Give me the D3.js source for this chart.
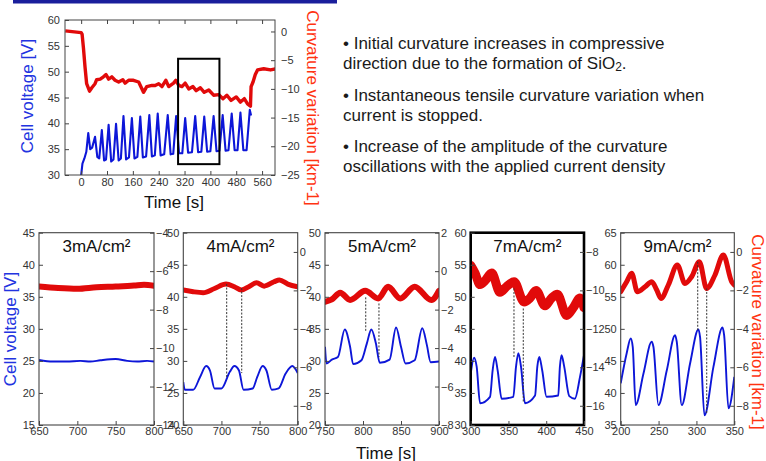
<!DOCTYPE html>
<html>
<head>
<meta charset="utf-8">
<script src="https://cdn.jsdelivr.net/npm/d3@7"></script>
<style>
  body { margin: 0; background: #fff; }
  svg { display: block; font-family: "Liberation Sans", Arial, sans-serif; }
</style>
</head>
<body>
<svg id="chart" width="766" height="461"></svg>
<script>
// ---- overview run (top left) ----
var topTimeTicks = [0, 80, 160, 240, 320, 400, 480, 560];
var topVoltTicks = [30, 35, 40, 45, 50, 55, 60];
var topCurvTicks = [-25, -20, -15, -10, -5, 0];

// [time s, cell voltage V]
var topVoltage = [[0,30.0],[4,32.2],[10,33.2],[16,34.5],[22,38.1],[28,35.0],[34,35.3],[43,37.4],[50,33.5],
  [56,33.2],[64,38.7],[71,32.8],[77,33.0],[85,39.7],[93,32.6],[100,33.0],[108,39.9],[116,32.8],[123,33.2],
  [131,41.4],[139,33.0],[148,33.4],[157,41.0],[165,33.2],[174,33.5],[183,41.3],[191,33.4],[201,33.6],
  [211,41.6],[219,33.6],[228,33.8],[237,41.9],[246,33.8],[257,34.0],[268,41.6],[277,34.0],[285,34.1],
  [294,41.4],[303,34.2],[313,34.2],[322,41.0],[331,34.3],[343,34.4],[353,41.4],[362,34.4],[372,34.5],
  [381,41.3],[390,34.5],[400,34.6],[410,41.4],[419,34.6],[428,34.7],[438,41.6],[447,34.7],[456,34.8],
  [466,41.9],[475,34.8],[484,34.8],[493,42.1],[502,34.8],[512,34.8],[522,42.6],[526,41.5]];

// [time s, curvature variation km-1]
var topCurvature = [[-49,0.1],[0,-0.2],[3,-0.5],[7,-2.8],[12,-6.2],[17,-9.1],[26,-10.4],[33,-9.8],[43,-9.1],
  [48,-8.4],[59,-8.3],[69,-7.9],[77,-7.5],[85,-8.3],[95,-7.9],[105,-8.5],[116,-8.8],[129,-8.4],[136,-9.0],
  [147,-8.5],[162,-8.5],[178,-8.8],[193,-10.6],[203,-9.6],[219,-9.4],[229,-9.4],[240,-9.1],[250,-9.6],
  [262,-8.5],[271,-9.6],[286,-9.0],[293,-8.5],[302,-9.4],[312,-9.6],[322,-9.0],[333,-10.0],[346,-9.6],
  [356,-10.3],[369,-9.8],[381,-10.6],[395,-10.2],[410,-11.1],[426,-11.0],[439,-11.7],[451,-11.1],
  [464,-12.0],[480,-11.4],[493,-12.3],[505,-11.7],[515,-12.6],[524,-13.0],[526,-9.6],[532,-8.8],
  [539,-7.5],[546,-6.7],[565,-6.5],[586,-6.7],[602,-6.5]];

// highlighted window: [t0, t1, V0, V1]
var zoomBox = [300, 428, 32.1, 52.5];

var bullets = [
  ["• Initial curvature increases in compressive", "direction due to the formation of SiO", "2", "."],
  ["• Instantaneous tensile curvature variation when", "current is stopped."],
  ["• Increase of the amplitude of the curvature", "oscillations with the applied current density"]
];

// ---- five current densities (bottom row) ----
var densities = ["3mA/cm²", "4mA/cm²", "5mA/cm²", "7mA/cm²", "9mA/cm²"];
var timeRanges = [[650, 800], [650, 800], [750, 900], [300, 450], [200, 350]];
var voltRanges = [[15, 45], [20, 50], [20, 50], [30, 60], [35, 65]];
var curvRanges = [[-14, -4], [-9, 1], [-8, 2], [-17, -7], [-9, 1]];
var timeTicks = [[650, 700, 750, 800], [650, 700, 750, 800], [750, 800, 850, 900],
                 [300, 350, 400, 450], [200, 250, 300, 350]];
var voltTicks = [[15, 20, 25, 30, 35, 40, 45], [20, 25, 30, 35, 40, 45, 50], [20, 25, 30, 35, 40, 45, 50],
                 [30, 35, 40, 45, 50, 55, 60], [35, 40, 45, 50, 55, 60, 65]];
var curvTicks = [[-14, -12, -10, -8, -6, -4], [-8, -6, -4, -2, 0], [-8, -6, -4, -2, 0, 2],
                 [-16, -14, -12, -10, -8], [-8, -6, -4, -2, 0]];

var volt3 = [[650,25.15],[668,24.9],[686,24.9],[704,25.0],[717,24.9],[730,25.1],[750,25.3],[765,25.0],
  [778,24.9],[791,25.0],[800,24.9]];
var curv3 = [[650,-6.80],[675,-6.88],[700,-6.92],[725,-6.84],[750,-6.80],[774,-6.75],[787,-6.71],[800,-6.76]];

var volt4 = [[650,26.7],[652,25.5],[663,25.5],[672,27.5],[680,29.2],[685,28.5],[691,25.7],[700,25.7],
  [711,28.3],[717,29.2],[723,28.5],[729,25.5],[741,25.7],[747,27.5],[754,29.2],[759,28.5],[766,25.5],
  [775,25.7],[784,28.0],[793,29.2],[800,28.1]];
var curv4 = [[650,-1.98],[663,-2.07],[676,-2.12],[691,-1.90],[706,-1.67],[717,-1.81],[726,-1.98],
  [737,-1.78],[746,-1.60],[756,-1.78],[769,-1.55],[776,-1.46],[787,-1.67],[800,-1.81]];

var volt5 = [[750,32.2],[752,29.6],[759,30.2],[767,30.6],[776,34.9],[783,32.2],[787,29.5],[798,30.1],
  [805,32.7],[811,34.9],[817,32.7],[822,29.7],[835,30.2],[843.5,35.2],[850,32.2],[856,29.6],[868,30.1],
  [878,35.1],[884,32.5],[889,29.8],[900,29.9]];
var curv5 = [[750,-1.59],[759,-1.47],[770,-1.12],[783,-1.50],[803,-1.02],[820,-1.42],[833,-0.81],
  [849,-1.42],[868,-0.81],[890,-1.50],[900,-1.02]];

var volt7 = [[300,38.0],[304.4,40.5],[307.9,39.1],[312.4,33.4],[325.6,34.4],[329,38.5],[332.2,40.6],
  [335.7,38.5],[341,34.1],[356.4,34.4],[360,39.1],[363.1,41.2],[366.6,39.1],[371.9,33.4],[385.2,34.6],
  [388.2,39.1],[390.8,40.6],[394.7,38.5],[400.4,34.4],[415.9,34.6],[418.1,39.1],[420.3,40.9],[423.8,39.1],
  [430.5,34.5],[437.9,34.1],[444.7,37.5],[450,40.9]];
var curv7 = [[300,-8.7],[305.7,-9.1],[312.4,-9.7],[319,-9.5],[327.8,-9.1],[338.8,-10.1],[347.6,-9.8],
  [357.4,-9.55],[370.6,-10.6],[378.5,-10.4],[386.5,-10.0],[398.4,-10.8],[407,-10.4],[414.7,-10.2],
  [427,-11.3],[435.8,-10.9],[444.7,-10.4],[450,-10.9]];

var volt9 = [[200,41.5],[207.9,46.2],[213.2,48.5],[215.9,47.2],[219.8,38.1],[230,43.0],[241,48.0],
  [243.2,47.2],[249.8,38.1],[260.8,43.5],[271.8,49.0],[274,48.0],[280.6,38.1],[291.6,44.6],[302.6,49.9],
  [304.8,48.7],[310.6,36.5],[322.5,44.1],[334.4,50.2],[336.6,49.0],[342.3,37.6],[350,42.5]];
var curv9 = [[200,-2.07],[207.9,-1.55],[214.5,-1.11],[222,-2.07],[232.2,-1.81],[241,-1.55],[247.6,-1.98],
  [253.2,-2.42],[262.9,-1.72],[274.8,-0.68],[284.9,-1.64],[293.7,-1.29],[303.8,-0.51],[313.5,-1.90],
  [324.5,-1.20],[335.5,-0.16],[346.5,-1.55],[350,-1.72]];

// dotted guides: [time, curvature at top end, voltage at bottom end]
var guides = [
  [],
  [[706.9, -1.67, 27.5], [726.6, -1.88, 28.1]],
  [[803.6, -1.36, 34.5], [821, -1.68, 30.6]],
  [[357.3, -9.9, 40.6], [369.6, -10.94, 33.6]],
  [[301.7, -0.51, 49.8], [313.6, -1.9, 36.8]]
];

var voltSeries = [volt3, volt4, volt5, volt7, volt9];
var curvSeries = [curv3, curv4, curv5, curv7, curv9];

// ---- drawing ----
var BLUE = "#0d16d8", RED = "#e10a0a";
var BLUE_TXT = "#2233e0", RED_TXT = "#ff3311";
var svg = d3.select("#chart");

function styleAxis(g, size) {
  g.select(".domain").remove();
  g.selectAll(".tick line").attr("stroke", "#444");
  g.selectAll(".tick text").attr("fill", "#333").style("font-size", size + "px")
    .style("font-family", '"Liberation Sans", Arial, sans-serif');
}

// top header bar
svg.append("rect").attr("x", 13).attr("y", 0).attr("width", 324).attr("height", 3.5).attr("fill", "#1a1f9c");

// top chart
(function () {
  var x = d3.scaleLinear().domain([-50, 600]).range([65, 275]);
  var yV = d3.scaleLinear().domain([30, 60]).range([175, 20]);
  var yC = d3.scaleLinear().domain([-25, 2]).range([175, 20]);
  var g = svg.append("g");

  g.append("clipPath").attr("id", "clipTop").append("rect")
    .attr("x", 65).attr("y", 20).attr("width", 210).attr("height", 155);

  var plot = g.append("g").attr("clip-path", "url(#clipTop)");
  plot.append("path").datum(topCurvature)
    .attr("d", d3.line().x(d => x(d[0])).y(d => yC(d[1])))
    .attr("fill", "none").attr("stroke", RED).attr("stroke-width", 3.4).attr("stroke-linejoin", "round");
  plot.append("path").datum(topVoltage)
    .attr("d", d3.line().x(d => x(d[0])).y(d => yV(d[1])))
    .attr("fill", "none").attr("stroke", BLUE).attr("stroke-width", 2.1).attr("stroke-linejoin", "round");

  g.append("rect").attr("x", 65).attr("y", 20).attr("width", 210).attr("height", 155)
    .attr("fill", "none").attr("stroke", "#444").attr("stroke-width", 1);

  g.append("g").attr("transform", "translate(0,175)")
    .call(d3.axisBottom(x).tickValues(topTimeTicks).tickSize(-4).tickPadding(3))
    .call(a => styleAxis(a, 11));
  g.append("g").attr("transform", "translate(0,20)")
    .call(d3.axisTop(x).tickValues(topTimeTicks).tickSize(-4).tickFormat(""))
    .call(a => styleAxis(a, 11));
  g.append("g").attr("transform", "translate(65,0)")
    .call(d3.axisLeft(yV).tickValues(topVoltTicks).tickSize(-4).tickPadding(5))
    .call(a => styleAxis(a, 11));
  g.append("g").attr("transform", "translate(275,0)")
    .call(d3.axisRight(yC).tickValues(topCurvTicks).tickSize(-4).tickPadding(6))
    .call(a => styleAxis(a, 11));

  g.append("rect")
    .attr("x", x(zoomBox[0])).attr("y", yV(zoomBox[3]))
    .attr("width", x(zoomBox[1]) - x(zoomBox[0])).attr("height", yV(zoomBox[2]) - yV(zoomBox[3]))
    .attr("fill", "none").attr("stroke", "#000").attr("stroke-width", 2);

  g.append("text").attr("x", 174).attr("y", 208).attr("text-anchor", "middle")
    .style("font-size", "17px").attr("fill", "#111").text("Time [s]");
  g.append("text").attr("transform", "translate(33,96) rotate(-90)").attr("text-anchor", "middle")
    .style("font-size", "17px").attr("fill", BLUE_TXT).text("Cell voltage [V]");
  g.append("text").attr("transform", "translate(307,108) rotate(90)").attr("text-anchor", "middle")
    .style("font-size", "17px").attr("fill", RED_TXT).text("Curvature variation [km-1]");
})();

// bullet text
(function () {
  var baselines = [[49, 69], [101, 121], [152, 172]];
  bullets.forEach(function (b, i) {
    svg.append("text").attr("x", 343).attr("y", baselines[i][0])
      .style("font-size", "17px").attr("fill", "#1a1a1a").text(b[0]);
    var t2 = svg.append("text").attr("x", 343).attr("y", baselines[i][1])
      .style("font-size", "17px").attr("fill", "#1a1a1a");
    t2.append("tspan").text(b[1]);
    if (b.length > 2) {
      t2.append("tspan").attr("dy", 2).style("font-size", "12px").text(b[2]);
      t2.append("tspan").attr("dy", -2).text(b[3]);
    }
  });
})();

// bottom panels
var panelLeft = [39, 183.3, 325, 470.7, 620.7];
var panelRight = [154, 297.7, 439, 584, 734.3];
var redWidths = [6, 5, 6, 9, 5];
var top0 = 232.7, bot0 = 425;

densities.forEach(function (label, i) {
  var x = d3.scaleLinear().domain(timeRanges[i]).range([panelLeft[i], panelRight[i]]);
  var yV = d3.scaleLinear().domain(voltRanges[i]).range([bot0, top0]);
  var yC = d3.scaleLinear().domain(curvRanges[i]).range([bot0, top0]);
  var w = panelRight[i] - panelLeft[i];
  var g = svg.append("g");

  g.append("clipPath").attr("id", "clip" + i).append("rect")
    .attr("x", panelLeft[i]).attr("y", top0).attr("width", w).attr("height", bot0 - top0);
  var plot = g.append("g").attr("clip-path", "url(#clip" + i + ")");

  plot.append("path").datum(curvSeries[i])
    .attr("d", d3.line().x(d => x(d[0])).y(d => yC(d[1])).curve(d3.curveMonotoneX))
    .attr("fill", "none").attr("stroke", RED).attr("stroke-width", redWidths[i])
    .attr("stroke-linejoin", "round").attr("stroke-linecap", "round");
  plot.append("path").datum(voltSeries[i])
    .attr("d", d3.line().x(d => x(d[0])).y(d => yV(d[1])).curve(d3.curveMonotoneX))
    .attr("fill", "none").attr("stroke", BLUE).attr("stroke-width", 1.9);

  guides[i].forEach(function (d) {
    g.append("line").attr("x1", x(d[0])).attr("x2", x(d[0]))
      .attr("y1", yC(d[1])).attr("y2", yV(d[2]))
      .attr("stroke", "#333").attr("stroke-width", 1).attr("stroke-dasharray", "2,1.5");
  });

  var boxed = i === 3;
  g.append("rect").attr("x", panelLeft[i]).attr("y", top0).attr("width", w).attr("height", bot0 - top0)
    .attr("fill", "none").attr("stroke", boxed ? "#000" : "#444").attr("stroke-width", boxed ? 2.6 : 1.1);

  g.append("g").attr("transform", "translate(0," + bot0 + ")")
    .call(d3.axisBottom(x).tickValues(timeTicks[i]).tickSize(-4).tickPadding(2))
    .call(a => styleAxis(a, 11));
  g.append("g").attr("transform", "translate(" + panelLeft[i] + ",0)")
    .call(d3.axisLeft(yV).tickValues(voltTicks[i]).tickSize(-4).tickPadding(4))
    .call(a => styleAxis(a, 11));
  g.append("g").attr("transform", "translate(" + panelRight[i] + ",0)")
    .call(d3.axisRight(yC).tickValues(curvTicks[i]).tickSize(-4).tickPadding(2))
    .call(a => styleAxis(a, 11));

  g.append("text").attr("x", (panelLeft[i] + panelRight[i]) / 2).attr("y", 252)
    .attr("text-anchor", "middle").style("font-size", "17px").attr("fill", "#111").text(label);
});

svg.append("text").attr("transform", "translate(16,329) rotate(-90)").attr("text-anchor", "middle")
  .style("font-size", "17px").attr("fill", BLUE_TXT).text("Cell voltage [V]");
svg.append("text").attr("transform", "translate(752,332) rotate(90)").attr("text-anchor", "middle")
  .style("font-size", "17px").attr("fill", RED_TXT).text("Curvature variation [km-1]");
svg.append("text").attr("x", 386).attr("y", 459).attr("text-anchor", "middle")
  .style("font-size", "17px").attr("fill", "#111").text("Time [s]");
</script>
</body>
</html>
